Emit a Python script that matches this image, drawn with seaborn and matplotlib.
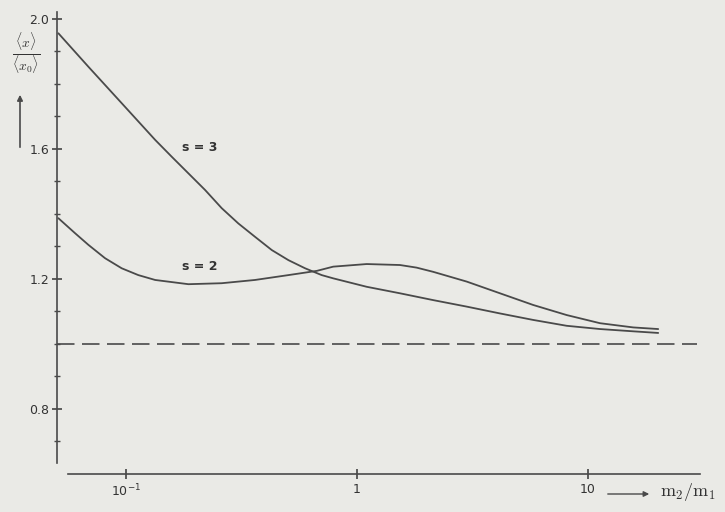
import numpy as np
import pandas as pd
import matplotlib
matplotlib.use("Agg")
import matplotlib.pyplot as plt
import seaborn as sns

# ---- data ----
log_x_s3 = [-1.293, -1.163, -1.019, -0.874, -0.802, -0.730, -0.658, -0.586,
            -0.514, -0.442, -0.369, -0.297, -0.225, -0.153, -0.103, 0.042,
            0.186, 0.330, 0.475, 0.619, 0.763, 0.908, 1.052, 1.196, 1.304]
ratio_s3 = [1.956, 1.853, 1.741, 1.628, 1.576, 1.525, 1.474, 1.418,
            1.371, 1.330, 1.289, 1.258, 1.233, 1.212, 1.202, 1.176,
            1.156, 1.135, 1.115, 1.094, 1.074, 1.056, 1.046, 1.039, 1.034]

log_x_s2 = [-1.293, -1.221, -1.163, -1.091, -1.019, -0.947, -0.874, -0.730,
            -0.586, -0.442, -0.297, -0.174, -0.103, 0.042, 0.186, 0.258,
            0.330, 0.475, 0.619, 0.763, 0.908, 1.052, 1.196, 1.304]
ratio_s2 = [1.387, 1.341, 1.305, 1.264, 1.233, 1.212, 1.197, 1.184,
            1.187, 1.197, 1.212, 1.225, 1.238, 1.246, 1.243, 1.235,
            1.222, 1.192, 1.156, 1.120, 1.089, 1.064, 1.051, 1.046]

reference_level = 1.0
curve_labels = ["s = 3", "s = 2"]
y_major = [0.8, 1.2, 1.6, 2.0]
y_major_labels = ["0.8", "1.2", "1.6", "2.0"]
x_major = [0.1, 1, 10]
x_major_labels = ["10$^{\\mathregular{-1}}$", "1", "10"]

df = pd.concat([
    pd.DataFrame({"m": 10 ** np.array(log_x_s3), "r": ratio_s3, "s": curve_labels[0]}),
    pd.DataFrame({"m": 10 ** np.array(log_x_s2), "r": ratio_s2, "s": curve_labels[1]}),
])

sns.set_theme(style="ticks")
plt.rcParams["font.family"] = ["DejaVu Sans"]
plt.rcParams["mathtext.fontset"] = "cm"

bg = "#eaeae6"
ink = "#4a4a4a"

fig = plt.figure(figsize=(7.25, 5.12), dpi=100, facecolor=bg)
ax = fig.add_axes([57 / 725, 1 - 474 / 512, (700 - 57) / 725, (474 - 12) / 512])
ax.set_facecolor(bg)

sns.lineplot(data=df, x="m", y="r", hue="s", palette=[ink, ink], ax=ax,
             legend=False, linewidth=1.3, sort=False, estimator=None)
ax.axhline(reference_level, color=ink, lw=1.2, ls=(0, (10.5, 4.5)),
           xmin=0.0, xmax=(697 - 57) / (700 - 57))

ax.set_xscale("log")
ax.set_xlim(10 ** -1.299, 10 ** 1.485)
ax.set_ylim(0.6, 2.0215)

ax.set_xticks(x_major)
ax.set_xticklabels(x_major_labels)
ax.xaxis.set_minor_locator(matplotlib.ticker.NullLocator())
ax.set_yticks(y_major)
ax.set_yticklabels(y_major_labels)
ax.set_yticks(np.arange(0.7, 2.0, 0.1), minor=True)

for side in ["top", "right"]:
    ax.spines[side].set_visible(False)
ax.spines["left"].set_bounds(0.634, 2.02)
ax.spines["bottom"].set_bounds(10 ** -1.251, 10 ** 1.485)
for side in ["left", "bottom"]:
    ax.spines[side].set_color(ink)
    ax.spines[side].set_linewidth(1.2)

ax.tick_params(axis="both", which="both", direction="inout", color=ink,
               labelcolor="#333333", labelsize=9)
ax.tick_params(axis="y", which="major", length=7, pad=2)
ax.tick_params(axis="y", which="minor", length=5)
ax.tick_params(axis="x", which="major", length=7, pad=3)
ax.set_xlabel("")
ax.set_ylabel("")

ax.text(0.175, 1.606, curve_labels[0], fontsize=9, fontweight="bold",
        color="#333333", ha="left", va="center")
ax.text(0.175, 1.237, curve_labels[1], fontsize=9, fontweight="bold",
        color="#333333", ha="left", va="center")

# y label as fraction + upward arrow
fig.text(26 / 725, 1 - 55 / 512, r"$\frac{\langle x \rangle}{\langle x_0 \rangle}$",
         fontsize=14, color="#333333", ha="center", va="center")
fig.add_artist(matplotlib.patches.FancyArrowPatch(
    (20 / 725, 1 - 150 / 512), (20 / 725, 1 - 92 / 512),
    transform=fig.transFigure, arrowstyle="-|>", mutation_scale=8,
    color=ink, lw=1.2))

# x label with arrow
fig.add_artist(matplotlib.patches.FancyArrowPatch(
    (605 / 725, 1 - 494 / 512), (652 / 725, 1 - 494 / 512),
    transform=fig.transFigure, arrowstyle="-|>", mutation_scale=8,
    color=ink, lw=1.0))
fig.text(688 / 725, 1 - 492 / 512, r"$\mathrm{m_2/m_1}$", fontsize=13,
         color="#333333", ha="center", va="center")

fig.savefig("out.png", dpi=100, facecolor=bg)
